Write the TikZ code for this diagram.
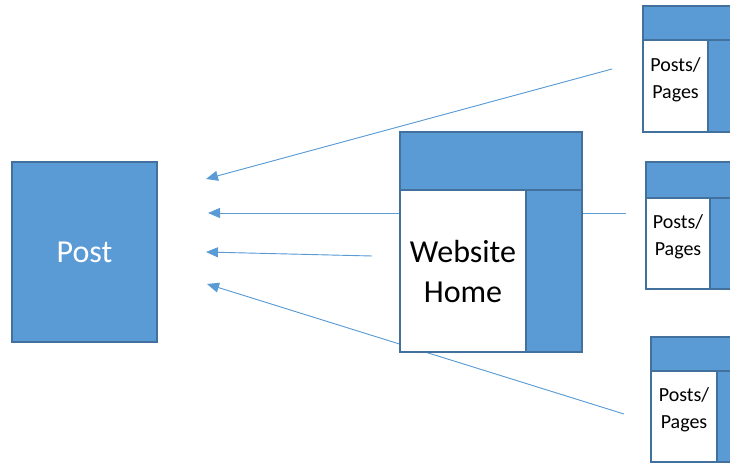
\documentclass[tikz,border=0pt]{standalone}
\usepackage{fontspec}
\setmainfont{Carlito}
\usetikzlibrary{arrows.meta, positioning}

\definecolor{officeblue}{RGB}{91,155,213}
\definecolor{officeedge}{RGB}{65,113,156}

\begin{document}
\begin{tikzpicture}[
    x=1pt, y=-1pt,
    bar/.style={draw=officeedge, fill=officeblue, line width=1.2pt, inner sep=0pt, outer sep=0pt},
    pagebody/.style={draw=officeedge, fill=white, line width=1.2pt, inner sep=0pt, outer sep=0pt, align=center},
    postbox/.style={draw=officeedge, fill=officeblue, line width=1.2pt, minimum width=145pt, minimum height=180pt, font=\fontsize{32}{38}\selectfont, text=white},
    arrow/.style={-{Triangle[length=12pt, width=10pt]}, draw=officeblue, fill=officeblue, line width=0.9pt},
    big/.style={font=\fontsize{32}{40}\selectfont},
    small/.style={font=\fontsize{20}{27}\selectfont, text depth=16pt}
]
\useasboundingbox (0,0) rectangle (730,463);

% free ends of the connectors
\coordinate (from1) at (612,69);
\coordinate (from2) at (626,213);
\coordinate (from3) at (372,256);
\coordinate (from4) at (624,414);
\coordinate (to1) at (206,179);
\coordinate (to2) at (208,213);
\coordinate (to3) at (206,252);
\coordinate (to4) at (207,284);

\foreach \from/\to in {from1/to1, from2/to2, from3/to3, from4/to4}
    \draw[arrow] (\from) -- (\to);

\node[postbox] (post) at (84.5,252) {Post};

% website home
\node[pagebody, big, minimum width=126pt, minimum height=162pt, anchor=north west] (home) at (400,190) {Website\\Home};
\node[bar, minimum width=182pt, minimum height=58pt, anchor=south west] (homebar) at (home.north west) {};
\node[bar, minimum width=56pt, minimum height=162pt, anchor=north west] (homeside) at (home.north east) {};

% posts / pages
\node[pagebody, small, minimum width=65pt, minimum height=92pt, anchor=north west] (page1) at (643,40) {Posts/\\Pages};
\node[bar, minimum width=100pt, minimum height=34pt, anchor=south west] (page1bar) at (page1.north west) {};
\node[bar, minimum width=31pt, minimum height=92pt, anchor=north west] (page1side) at (page1.north east) {};

\node[pagebody, small, minimum width=64pt, minimum height=91pt, anchor=north west] (page2) at (646,198) {Posts/\\Pages};
\node[bar, minimum width=100pt, minimum height=36pt, anchor=south west] (page2bar) at (page2.north west) {};
\node[bar, minimum width=31pt, minimum height=91pt, anchor=north west] (page2side) at (page2.north east) {};

\node[pagebody, small, minimum width=66pt, minimum height=91pt, anchor=north west] (page3) at (651,371) {Posts/\\Pages};
\node[bar, minimum width=100pt, minimum height=34pt, anchor=south west] (page3bar) at (page3.north west) {};
\node[bar, minimum width=31pt, minimum height=91pt, anchor=north west] (page3side) at (page3.north east) {};

\end{tikzpicture}
\end{document}
